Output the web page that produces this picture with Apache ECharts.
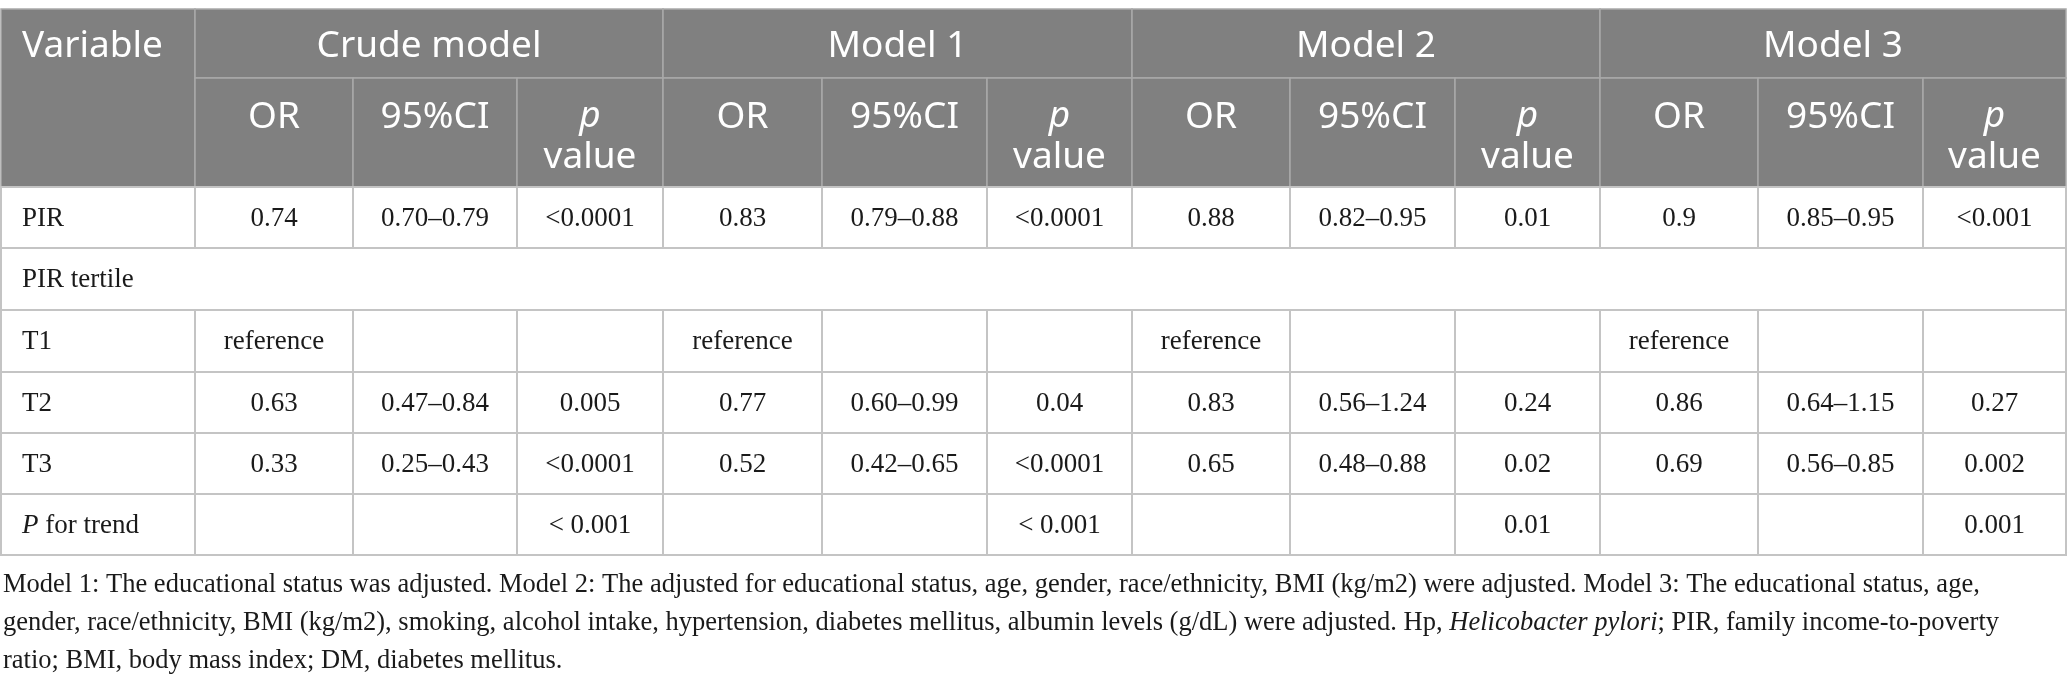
<!DOCTYPE html>
<html>
<head>
<meta charset="utf-8">
<script src="https://cdn.jsdelivr.net/npm/echarts@6/dist/echarts.min.js"></script>
<style>
  html, body { margin: 0; padding: 0; background: #fff; }
  #chart { width: 2068px; height: 687px; }
</style>
</head>
<body>
<div id="chart"></div>
<script>
// table content
var modelNames = ['Crude model', 'Model 1', 'Model 2', 'Model 3'];
var statNames = ['OR', '95%CI', 'p value'];
var variables = ['PIR', 'PIR tertile', 'T1', 'T2', 'T3', 'P for trend'];

// one row per variable: [OR, 95%CI, p value]; null = merged row
var crudeModel = [['0.74', '0.70–0.79', '<0.0001'], null, ['reference', '', ''], ['0.63', '0.47–0.84', '0.005'], ['0.33', '0.25–0.43', '<0.0001'], ['', '', '< 0.001']];
var model1 = [['0.83', '0.79–0.88', '<0.0001'], null, ['reference', '', ''], ['0.77', '0.60–0.99', '0.04'], ['0.52', '0.42–0.65', '<0.0001'], ['', '', '< 0.001']];
var model2 = [['0.88', '0.82–0.95', '0.01'], null, ['reference', '', ''], ['0.83', '0.56–1.24', '0.24'], ['0.65', '0.48–0.88', '0.02'], ['', '', '0.01']];
var model3 = [['0.9', '0.85–0.95', '<0.001'], null, ['reference', '', ''], ['0.86', '0.64–1.15', '0.27'], ['0.69', '0.56–0.85', '0.002'], ['', '', '0.001']];

var footnoteLines = [
  'Model 1: The educational status was adjusted. Model 2: The adjusted for educational status, age, gender, race/ethnicity, BMI (kg/m2) were adjusted. Model 3: The educational status, age,',
  'gender, race/ethnicity, BMI (kg/m2), smoking, alcohol intake, hypertension, diabetes mellitus, albumin levels (g/dL) were adjusted. Hp, {i|Helicobacter pylori}; PIR, family income-to-poverty',
  'ratio; BMI, body mass index; DM, diabetes mellitus.'
];

// layout (axis units = px)
var colEdges = [1, 195, 353, 517, 663, 822, 987, 1132, 1290, 1455, 1600, 1758, 1923, 2066];
var rowEdges = [9, 78, 187, 248, 310, 372, 433, 494, 555];
var footY = [585, 623, 661];

var headFill = '#808080';
var headLine = '#a9a9a9';
var bodyLine = '#c4c4c4';
var sans = '"Noto Sans", "Open Sans", sans-serif';
var serif = '"Liberation Serif", "DejaVu Serif", serif';
var headSize = 37;
var bodySize = 27;
var footSize = 26.5;

var models = [crudeModel, model1, model2, model3];

function fmtItalic(s) {
  if (s === 'p value') return '{i|p}\nvalue';
  if (s === 'P for trend') return '{i|P} for trend';
  return s;
}

// build cells
var cells = [];
cells.push({ c0: 0, c1: 1, r0: 0, r1: 2, text: 'Variable', head: true, align: 'left', textR0: 0, textR1: 1 });
modelNames.forEach(function (m, k) {
  cells.push({ c0: 1 + k * 3, c1: 4 + k * 3, r0: 0, r1: 1, text: m, head: true });
  statNames.forEach(function (s, j) {
    cells.push({ c0: 1 + k * 3 + j, c1: 2 + k * 3 + j, r0: 1, r1: 2, text: fmtItalic(s), head: true, top: true });
  });
});
variables.forEach(function (v, i) {
  var r = 2 + i;
  if (crudeModel[i] === null) {
    cells.push({ c0: 0, c1: colEdges.length - 1, r0: r, r1: r + 1, text: v, align: 'left' });
    return;
  }
  cells.push({ c0: 0, c1: 1, r0: r, r1: r + 1, text: fmtItalic(v), align: 'left' });
  models.forEach(function (md, k) {
    md[i].forEach(function (val, j) {
      cells.push({ c0: 1 + k * 3 + j, c1: 2 + k * 3 + j, r0: r, r1: r + 1, text: val });
    });
  });
});

var chart = echarts.init(document.getElementById('chart'), null, { renderer: 'canvas' });

function renderCell(params, api) {
  var c = cells[params.dataIndex];
  var p0 = api.coord([colEdges[c.c0], rowEdges[c.r0]]);
  var p1 = api.coord([colEdges[c.c1], rowEdges[c.r1]]);
  var x = p0[0], y = p0[1], w = p1[0] - p0[0], h = p1[1] - p0[1];
  var tx = c.align === 'left' ? x + 21 : x + w / 2;
  var ty;
  if (c.textR0 !== undefined) {
    ty = (api.coord([0, rowEdges[c.textR0]])[1] + api.coord([0, rowEdges[c.textR1]])[1]) / 2 + 3;
  } else if (c.top) {
    ty = y + (c.text.indexOf('\n') >= 0 ? 59 : 39);
  } else {
    ty = y + h / 2 + (c.head ? 3 : 1);
  }
  var size = c.head ? headSize : bodySize;
  var col = c.head ? '#ffffff' : '#1a1a1a';
  var fam = c.head ? sans : serif;
  return {
    type: 'group',
    children: [{
      type: 'rect',
      shape: { x: x, y: y, width: w, height: h },
      style: { fill: c.head ? headFill : '#ffffff', stroke: c.head ? headLine : bodyLine, lineWidth: c.head ? 1.5 : 2 }
    }, {
      type: 'text',
      style: {
        x: tx, y: ty,
        text: c.text,
        align: c.align || 'center',
        verticalAlign: 'middle',
        fill: col,
        fontFamily: fam,
        fontSize: size,
        lineHeight: c.head ? 41 : 30,
        rich: {
          i: { fontStyle: 'italic', fontFamily: fam, fontSize: size, lineHeight: c.head ? 41 : 30, fill: col }
        }
      }
    }]
  };
}

var footGraphics = footnoteLines.map(function (line, i) {
  return {
    type: 'text',
    left: 3,
    top: footY[i] - 16,
    style: {
      text: line,
      fill: '#1a1a1a',
      fontFamily: serif,
      fontSize: footSize,
      lineHeight: 32,
      rich: {
        i: { fontStyle: 'italic', fontFamily: serif, fontSize: footSize, lineHeight: 32, fill: '#1a1a1a' }
      }
    }
  };
});

chart.setOption({
  animation: false,
  grid: { left: 0, right: 0, top: 0, bottom: 0 },
  xAxis: { type: 'value', min: 0, max: 2068, show: false },
  yAxis: { type: 'value', min: 0, max: 687, inverse: true, show: false },
  series: [{
    type: 'custom',
    coordinateSystem: 'cartesian2d',
    renderItem: renderCell,
    data: cells.map(function (c) { return [colEdges[c.c0], rowEdges[c.r0], colEdges[c.c1], rowEdges[c.r1]]; }),
    silent: true,
    clip: false
  }],
  graphic: footGraphics
});
</script>
</body>
</html>
